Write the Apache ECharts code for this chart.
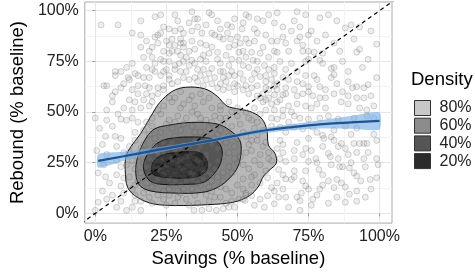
<!DOCTYPE html>
<html><head><meta charset="utf-8">
<script src="https://cdn.jsdelivr.net/npm/echarts@6/dist/echarts.min.js"></script>
<style>html,body{margin:0;padding:0;background:#fff}#c{width:475px;height:273px}</style>
</head><body><div id="c"></div>
<script>
// ---- data (percent of baseline) ----
const xTicks = [0, 25, 50, 75, 100];
const yTicks = [0, 25, 50, 75, 100];
const minorTicks = [12.5, 37.5, 62.5, 87.5];
const levelNames = ['80%', '60%', '40%', '20%'];

// sparse points outside the dense core
const pointsSparse = [
[2,93],[8,93],[16,95],[21,97],[23,98],[28,98],[29,95],[24,92],[26,91],[28,90],[30,91],[31,89],[13,89],[16,88],[21,87],[22,88],[23,89],[30,86],[27,86],[26,83],[28,83],[30,84],[31,82],[31,84],[22,84],[16,82],[19,80],[26,79],[23,76],[27,80],[29,80],[30,78],[17,77],[20,77],[24,75],[26,75],[28,73],[29.5,74],[31,75],[11,72],[7,70],[9,70],[7,68],[14,69],[15,68],[17,67],[19,67],[20,71],[21,70],[23,68],[25,71],[26,68],[28,71],[30,70],[31,67],[3,63],[4,63],[7,60],[10,64],[11.5,67],[13,61],[15,63],[17.5,63],[19,62],[22,62],[24,63],[27,64],[29,65],[15,59],[18,59],[20,58],[20,55],[22,59],[24,61],[10,52],[4,51],[13,51],[16,52],[19,53],
[34,99.5],[35,96],[33,94],[40,99],[41,98],[49,96],[46.5,93],[44,91],[53,98],[54,97],[57,96],[59,95],[61,98],[63,94],[64,99],[66,92],[34,90],[36,92],[37.5,89],[41,89],[42,88],[43.7,87],[46.5,89],[47.6,86],[50,87],[51.6,91],[53,86],[54,84],[57,89],[60,88],[62,85],[64,85],[66,87],[34,85],[37,84],[39,83],[41,82],[35,81],[40,79],[43,79.5],[47,82],[49,83],[50.5,79.5],[52,80],[55,79.5],[58,79],[63,80],[64,79.5],[34,75.5],[33,73],[35,74],[37,76],[39,75],[38,71],[41,71.5],[44,74],[45,70],[47,73],[48,76],[50.5,75.5],[52,73],[54,72],[55.5,75.5],[57,71],[59.5,73],[61,71],[63,72],[65,75],[67,71],[35,67],[37,68],[39,66],[42,67],[44,64],[45,67],[47,68],[49,68],[49,64],[52,66],[55,66],[58,67.5],[60,65],[62,66],[64,64],[66,67],[43,62],[45,61],[47,62],[49,60],[52,61],[54,59],[55,62],[57,58],[59,59],[61,61],[63,58.5],[64,61],[66,58.5],[59,55],[62,54],[64,55],
[70,95],[71,99.5],[74,98],[79,96.5],[82,98],[76,90],[81,88],[88,91.5],[90,93],[93,92],[72,87],[71,85],[73,83],[73,80],[75,80],[77,79.5],[80,79],[75,76],[74,75],[79,75.5],[80,74],[92,79.5],[93,81],[99,83.5],[83,71.5],[71,70],[74,68],[77,68],[83,67],[84,68.5],[89,65],[99,67],[71,65],[75,62.5],[79,62.5],[85,64],[90.5,62],[92,62.5],[94.5,62],[96,63.5],[71,58],[73,59],[75,60],[76.5,58],[79,57],[81,57],[84,59],[86.5,55],[92,57],[94.5,57],[71,54],[74,53],[76,52],[78,54],[81,52],[89,54],[93,52],[98,53],[95.5,51],
[0,47],[4,46],[1.5,42],[6,43],[9,46.5],[11,46],[13,47],[15,45],[3.6,38],[7,38],[9,37],[14,40],[7.5,33],[12,33],[2.5,34],[0.5,31],[4,29],[10,30],[7.5,26],[3,24],[9,23],[1,20],[3.6,18],[7.5,19],[10,17.5],[5,15],[9,13.5],[2.5,11],[4,7],[1,5.5],[6,9],[9,6],[10,10],[0,1.5],[7.5,3],[11,1.5],[13,3],[16,1.5],[14,6],[6,55],[12,56],[8,49],
[64,46.5],[66,48],[65,42.5],[67,40],[64,32],[66,34],[65,27],[67,25.6],[64.5,21.6],[66,19],[67,17],[64,15],[66,12],[63,11],[60.6,8.7],[58,7],[63,4.7],[59.5,3],[56,4],[55,8.7],[53,10],[52.7,6.3],[50.5,7],[49,3],[47,3],[45,2.3],[42.6,1.5],[40,2.3],[37.5,1.5],[34.7,1.5],[67,8],[64.5,8],[62,12.7],[60.6,17.6],
[44,53],[47,55],[50,52],[53,50],[56,52],[58,49],[60,51],[62,47],[55,46],[66,51],[68,53],[68,45],[69,50],
[70,48],[72,47],[75,46.5],[79,47],[82,48],[85.5,46.5],[91,47],[95.6,48],[70,42.5],[73,41.7],[76.5,42.5],[80,38.5],[80.4,37],[83,37.7],[86.6,34.5],[85.5,33],[90,39],[91,34.5],[93,34.5],[94.5,34.5],[95.6,34.5],[99,36],[98,39],[73,29],[74,32],[70,27],[75,25.6],[77.6,27],[82,29.6],[82.7,28],[85.5,27],[89,29],[94.5,27],[99,27],[99.5,24],[86,23],[87,23],[89.4,22.4],[91,20],[92,18.4],[93.4,16],[96.7,16.7],[99,17.6],[78.7,21.6],[80,19],[82,16],[85,16.7],[86.6,15],[84,12.7],[70,21],[69,16.7],[73,16],[74,13.5],[79,12],[75,12],[72.5,10],[71,8],[72,6.3],[76.5,7],[85,8],[89.4,9.5],[88,5.5],[92,6],[72,1.5],[76,4],
[36,96],[39,93],[43,95],[48,92],[52,94],[56,91],[45,86],[51,84],[56,85],[59,82],[61,77],[57,75],[53,77],[46,78],[43,76],[38,78],[36,71],[40,69],[44,70],[48,70],[51,69],[56,69],[60,68],[63,69],[46,65],[50,63],[53,63],[57,63],[60,62],[63,63],[41,64],[38,63],[36,65],[33,66],[32,70],[32,77],[33,80],[20,82],[18,85],[25,85],[24,80],[21,74],[18,72],[13,74],[12,66],[9,62],[6,58],[14,55],[17,56],[26,66],[24,70],[67,62],[68,66],[69,74],[68,80],[67,84],[69,90],[72,92],[75,88],[78,85],[84,84],[86,80],[87,75],[84,72],[89,70],[94,72],[96,76],[91,86],[97,90],[85,95],[58,57],[61,57],[65,56],[67,59],[70,61],[73,64],[78,66],[81,61],[87,60],[89,58],[97,58],[98,47],[92,42],[88,43],[84,41],[78,40],[75,37],[71,35],[70,31],[76,31],[80,33],[84,36],[88,32],[92,30],[96,30],[95,23],[90,25],[83,24],[78,25],[74,21],[70,18],[80,14],[88,13],[92,11],[97,12],[78,9],[82,5],[95,8],[68,3],[65,36],[66,30],[62,43],[63,51],[60,56]
];

// points inside the dense core (estimated)
const pointsCore = [
[30,60],[34,58],[37,59],[40,57],[28,57],
[24,53],[27,55],[31,54],[35,53],[38,55],[41,52],[44,51],[33,56],
[20,47],[23,49],[26,46],[29,48],[32,47],[36,49],[39,46],[42,48],[46,47],[50,48],[54,47],[57,45],[48,50],
[17,41],[20,43],[23,40],[27,42],[30,41],[34,43],[37,40],[40,42],[44,41],[48,43],[52,40],[56,42],[59,41],[45,44],
[14,36],[17,34],[21,37],[24,35],[28,38],[31,34],[35,36],[38,35],[42,37],[46,35],[50,37],[54,34],[57,36],[60,35],[26,33],
[12,30],[15,28],[18,31],[22,29],[25,32],[29,30],[32,28],[36,31],[39,29],[43,32],[47,30],[51,28],[55,31],[58,29],[61,30],[33,33],
[11,24],[14,22],[17,25],[20,23],[23,26],[26,22],[29,24],[33,25],[36,22],[40,24],[43,26],[47,23],[50,25],[54,22],[58,24],[62,26],[31,21],
[12,18],[15,16],[19,19],[22,17],[25,20],[28,16],[31,18],[34,20],[38,17],[41,19],[45,16],[48,20],[52,17],[56,19],[60,21],[27,19],
[13,12],[17,10],[20,13],[24,11],[27,14],[30,10],[34,12],[37,14],[41,11],[44,13],[48,10],[52,12],[55,14],
[16,6],[20,5],[24,7],[28,5],[32,7],[36,5],[40,6],[44,8],[48,6],[52,7],[29,8],
[25,24],[28,21],[32,23],[35,27],[30,27],[38,22],[27,27],[24,19],[34,17],[30,14],[40,20],[22,22],
[18,45],[22,51],[26,57],[30,52],[34,50],[37,47],[41,45],[44,47],[25,44],[28,45],[31,44],[35,40],[39,38],[43,39],[47,38],[51,44],[53,38],[19,39],[16,32],[19,27],[21,33],[24,30],[27,35],[30,32],[34,30],[37,33],[41,34],[45,28],[49,33],[53,30],[56,26],[59,33],[13,26],[16,20],[18,23],[21,26],[24,27],[27,25],[31,26],[34,23],[37,25],[39,27],[42,22],[45,20],[49,27],[52,24],[55,18],[14,14],[18,15],[21,15],[23,21],[26,17],[29,19],[32,16],[35,19],[38,20],[41,16],[43,18],[46,12],[50,14],[53,9],[19,8],[22,9],[26,9],[31,12],[35,9],[39,9],[42,8],[46,5],[33,4],[25,4],[22,30],[26,28],[29,26],[33,28],[36,26],[28,31],[30,22],[24,23],[33,20],[36,15],[26,12],[29,11],[40,13],[57,39],[55,36],[61,27],[58,15],[14,9]
];

// density contours (outer 80% -> inner 20%)
const contour80 = [[31.6,62.2],[38.4,61.5],[42.9,57.8],[46.3,53],[50.8,51.4],[55.3,49.8],[58.7,46.5],[60.4,40.9],[60.9,33.7],[63.2,29.6],[63.7,24.8],[61.5,21.6],[59.2,18.4],[57.5,13.5],[54.2,8.7],[48.5,5.5],[39.5,4.3],[28.3,3.9],[20.4,4.7],[14.8,7.9],[11.4,12.7],[10.5,21.6],[10.8,28],[12.5,32.9],[15.9,39.3],[19.3,47.3],[22.6,54.6],[27.1,60.2]];
const contour60 = [[24.9,43.3],[33.9,44.9],[42.9,44.1],[47.4,40.9],[50.8,36.1],[51.3,30.4],[50.2,23.2],[47.4,17.6],[42.9,12.7],[37.3,10.3],[28.3,10],[19.3,11.1],[15.3,14.3],[14.2,21.6],[15.3,29.6],[18.1,37.7],[20.9,41.7]];
const contour40 = [[26,36.9],[32.8,37.7],[40.7,36.9],[44,33.7],[44.6,28],[42.9,21.6],[38.4,15.5],[31.6,14.3],[23.8,14.3],[19.3,15.9],[17,21.6],[17.6,27.2],[20.4,32.9],[22.6,35.3]];
const contour20 = [[21.5,27.2],[24.9,29.3],[31.6,30.4],[37.3,29.6],[39.5,24.8],[38.4,20],[33.9,17.6],[26,17.6],[20.4,19.2],[19.8,23.2]];

// smooth fit with confidence band
const fitX  = [1, 10, 20, 30, 40, 50, 60, 70, 80, 90, 100];
const fitY  = [25.9, 28.2, 30.8, 33.3, 35.8, 38.5, 41.0, 42.7, 44.0, 44.9, 45.6];
const fitLo = [22.6, 26.0, 29.4, 32.3, 34.8, 37.5, 39.8, 41.2, 41.9, 41.8, 41.4];
const fitHi = [29.2, 30.4, 32.2, 34.3, 36.8, 39.5, 42.2, 44.2, 46.1, 48.0, 49.8];

// equality line y = x
const diag = [[-5, -5], [105, 105]];

// ---- chart ----
const FONT = '"Liberation Sans", Arial, sans-serif';
const levelColors = ['#c8c8c8', '#8c8c8c', '#555555', '#2b2b2b'];
const levelFills = ['rgba(140,140,140,0.62)', 'rgba(100,100,100,0.62)', 'rgba(60,60,60,0.66)', 'rgba(25,25,25,0.75)'];
const contours = [contour80, contour60, contour40, contour20];

function polySeries(name, pts, fill, stroke, z, smooth) {
  return {
    type: 'custom', name: name, data: pts, z: z, silent: true,
    encode: { x: 0, y: 1 },
    itemStyle: { color: fill },
    renderItem: function (params, api) {
      if (params.dataIndex !== 0) return null;
      return {
        type: 'polygon',
        shape: { points: pts.map(p => api.coord(p)), smooth: smooth },
        style: { fill: fill, stroke: stroke, lineWidth: stroke ? 1 : 0 }
      };
    }
  };
}

const bandPts = fitX.map((x, i) => [x, fitHi[i]]).concat(fitX.map((x, i) => [x, fitLo[i]]).reverse());

const series = [];
contours.forEach((c, i) => series.push(polySeries(levelNames[i], c, levelFills[i], '#111', 1 + i * 0.01, 0.35)));
series.push({
  type: 'scatter', data: pointsSparse.concat(pointsCore), symbolSize: 6, z: 2, silent: true,
  itemStyle: { color: 'rgba(150,150,150,0.2)', borderColor: 'rgba(70,70,70,0.34)', borderWidth: 0.8 }
});
series.push({
  type: 'line', data: diag, symbol: 'none', z: 3, silent: true,
  lineStyle: { color: '#000', width: 1.2, type: [4, 3.5] }
});
series.push(polySeries('band', bandPts, 'rgba(110,170,228,0.6)', null, 4, 0.2));
series.push({
  type: 'line', data: fitX.map((x, i) => [x, fitY[i]]), symbol: 'none', smooth: true, z: 5, silent: true,
  lineStyle: { color: '#1f528f', width: 2.2 }
});

function makeAxes(isX) {
  const base = {
    type: 'value',
    min: isX ? -3.7 : -4.8, max: isX ? 104.4 : 104.3,
    axisLine: { show: false }
  };
  const main = Object.assign({}, base, {
    name: isX ? 'Savings (% baseline)' : 'Rebound (% baseline)',
    nameLocation: 'middle', nameGap: isX ? 20 : 50,
    nameTextStyle: { fontFamily: FONT, fontSize: 18.5, color: '#000' },
    axisTick: { show: true, length: 3, lineStyle: { color: '#999' }, customValues: isX ? xTicks : yTicks },
    axisLabel: { fontFamily: FONT, fontSize: 16, color: '#222', margin: isX ? 5 : 6,
      customValues: isX ? xTicks : yTicks, formatter: v => v + '%' },
    splitLine: { show: true, lineStyle: { color: '#e6e6e6', width: 1 } }
  });
  const minor = Object.assign({}, base, {
    axisTick: { show: false, customValues: minorTicks },
    axisLabel: { show: false, customValues: minorTicks },
    splitLine: { show: true, lineStyle: { color: '#f3f3f3', width: 1 } }
  });
  return [main, minor];
}

const chart = echarts.init(document.getElementById('c'), null, { renderer: 'canvas' });
chart.setOption({
  animation: false,
  backgroundColor: '#fff',
  grid: { left: 72, top: 2, right: 83, bottom: 45, show: true, borderColor: '#aaaaaa', borderWidth: 1, backgroundColor: 'transparent' },
  xAxis: makeAxes(true),
  yAxis: makeAxes(false),
  title: { text: 'Density', left: 406, top: 65, textStyle: { fontFamily: FONT, fontSize: 18.5, fontWeight: 'normal', color: '#000' } },
  legend: {
    orient: 'vertical', left: 409, top: 95, itemWidth: 16, itemHeight: 15, itemGap: 1.7,
    icon: 'rect', selectedMode: false,
    textStyle: { fontFamily: FONT, fontSize: 16, color: '#222', padding: [0, 0, 0, 4] },
    data: levelNames.map((n, i) => ({ name: n, itemStyle: { color: levelColors[i], borderColor: '#333', borderWidth: 1 } }))
  },
  series: series
});
</script></body></html>
